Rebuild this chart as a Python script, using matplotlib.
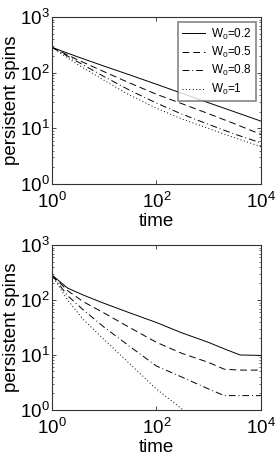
import matplotlib
matplotlib.use("Agg")
import matplotlib.pyplot as plt
from matplotlib.ticker import LogLocator, NullLocator, NullFormatter

plt.rcParams["font.family"] = ["Liberation Sans", "DejaVu Sans"]
plt.rcParams["mathtext.fontset"] = "custom"
plt.rcParams["mathtext.rm"] = "Liberation Sans"
plt.rcParams["mathtext.it"] = "Liberation Sans"

# ---- top panel ----
t_top = [1, 3, 10, 30, 100, 300, 1000, 3000, 10000]
top_w02 = [285, 195, 131, 92, 62, 43, 28.8, 20.1, 13.5]
top_w05 = [285, 173, 104, 66, 41, 28, 18.3, 12.3, 7.8]
top_w08 = [285, 160, 85, 49, 28.5, 18.2, 11.8, 8.0, 5.5]
top_w1 = [285, 143, 73, 40, 23, 14.9, 9.9, 6.9, 4.7]

# ---- bottom panel ----
t_bot = [1, 2, 4, 10, 30, 100, 300, 1000, 2000, 4000, 10000]
bot_w02 = [285, 165, 123, 87, 59, 39, 25.5, 16.9, 12.9, 10.0, 9.8]
bot_w05 = [285, 148, 93, 58, 32, 17, 10.8, 7.3, 5.5, 5.3, 5.3]
bot_w08 = [285, 120, 66, 32, 14.6, 6.3, 4.0, 2.4, 1.82, 1.82, 1.82]
t_bot_w1 = [1, 2, 4, 10, 30, 100, 300, 1000]
bot_w1 = [285, 100, 44, 19, 7.1, 2.4, 1.06, 0.43]

labels = ["W$_0$=0.2", "W$_0$=0.5", "W$_0$=0.8", "W$_0$=1"]
styles = ["-", (0, (7, 4)), (0, (7, 3, 1, 3)), (0, (1, 2.5))]

fig = plt.figure(figsize=(2.79, 4.59), dpi=100)
ax1 = fig.add_axes([0.186, 0.599, 0.749, 0.364])
ax2 = fig.add_axes([0.186, 0.107, 0.749, 0.359])

top = [(t_top, top_w02), (t_top, top_w05), (t_top, top_w08), (t_top, top_w1)]
bot = [(t_bot, bot_w02), (t_bot, bot_w05), (t_bot, bot_w08), (t_bot_w1, bot_w1)]

for ax, series in [(ax1, top), (ax2, bot)]:
    for (t, y), ls, lab in zip(series, styles, labels):
        ax.plot(t, y, color="black", linestyle=ls, linewidth=0.7, label=lab)
    ax.set_xscale("log")
    ax.set_yscale("log")
    ax.set_xlim(1, 1e4)
    ax.set_ylim(1, 1e3)
    ax.xaxis.set_major_locator(LogLocator(base=100))
    ax.xaxis.set_minor_locator(NullLocator())
    ax.yaxis.set_major_locator(LogLocator(base=10))
    ax.yaxis.set_minor_locator(LogLocator(base=10, subs=range(2, 10)))
    ax.yaxis.set_minor_formatter(NullFormatter())
    ax.tick_params(which="both", direction="in", top=True, right=True, labelsize=13.5)
    ax.tick_params(axis="x", pad=6)
    ax.tick_params(axis="y", pad=1.5)
    ax.tick_params(which="major", length=3, width=0.5)
    ax.tick_params(which="minor", length=1.5, width=0.4)
    for sp in ax.spines.values():
        sp.set_linewidth(0.8)
        sp.set_color("#333333")
    ax.set_xlabel("time", fontsize=13.5, labelpad=0.5)
    ax.set_ylabel("persistent spins", fontsize=13.5, labelpad=0)

leg = ax1.legend(loc="upper right", fontsize=8.5, frameon=True, fancybox=False,
                 handlelength=1.9, handletextpad=0.5, borderpad=0.35, labelspacing=0.28,
                 borderaxespad=0.45)
leg.get_frame().set_edgecolor("#666666")
leg.get_frame().set_linewidth(1.2)

fig.savefig("out.png", dpi=100)
